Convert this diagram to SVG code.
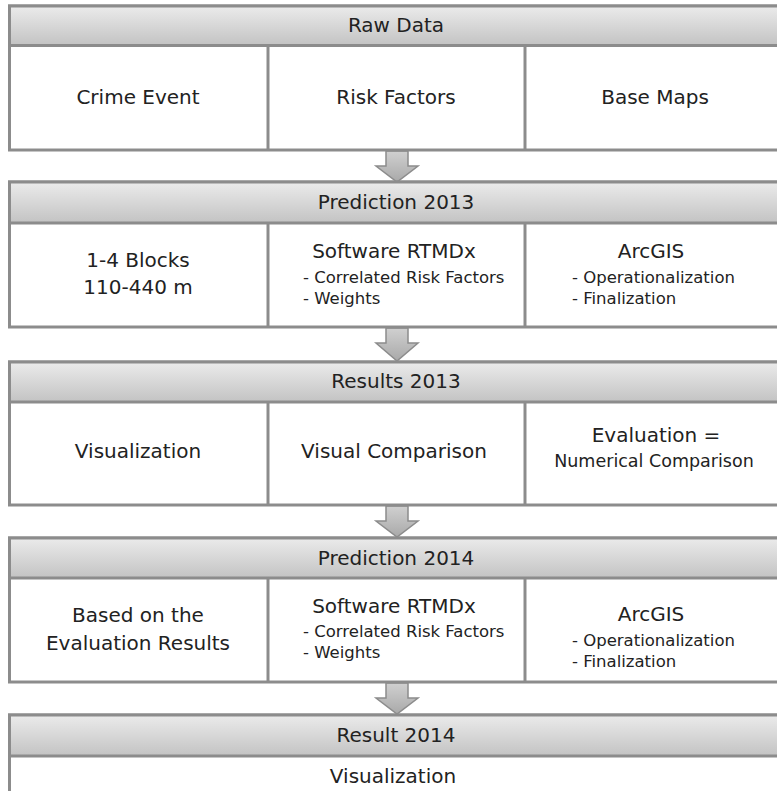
<svg xmlns="http://www.w3.org/2000/svg" width="777" height="791" viewBox="0 0 777 791">
<defs>
<linearGradient id="hg" x1="0" y1="0" x2="0" y2="1">
<stop offset="0" stop-color="#ebebeb"/>
<stop offset="1" stop-color="#c3c3c3"/>
</linearGradient>
<linearGradient id="ag" x1="0" y1="0" x2="0" y2="1">
<stop offset="0" stop-color="#d0d0d0"/>
<stop offset="1" stop-color="#a9a9a9"/>
</linearGradient>
<style>
.box{fill:#ffffff;stroke:#8c8c8c;stroke-width:3}
.hdr{fill:url(#hg);stroke:#8c8c8c;stroke-width:3}
.div{stroke:#8c8c8c;stroke-width:3}
.arr{fill:url(#ag);stroke:#8c8c8c;stroke-width:1.5;stroke-linejoin:miter}
text{font-family:"DejaVu Sans",Verdana,sans-serif;fill:#222222}
.t{font-size:20px;text-anchor:middle}
.s{font-size:16.5px}
.m{font-size:17.5px;text-anchor:middle}
</style>
</defs>
<rect width="777" height="791" fill="#ffffff"/>

<g id="connectors">
<path class="arr" d="M386,151 H408 V166 H418 L397,182 L376,166 H386 Z"/>
<path class="arr" d="M386,328 H408 V343 H418 L397,361 L376,343 H386 Z"/>
<path class="arr" d="M386,506 H408 V521 H418 L397,537 L376,521 H386 Z"/>
<path class="arr" d="M386,683 H408 V698 H418 L397,714 L376,698 H386 Z"/>
</g>

<g id="raw-data">
<rect class="box" x="9.5" y="6" width="790" height="144"/>
<rect class="hdr" x="9.5" y="6" width="790" height="39.5"/>
<line class="div" x1="268" y1="45.5" x2="268" y2="150"/>
<line class="div" x1="525" y1="45.5" x2="525" y2="150"/>
<text class="t" x="396" y="32">Raw Data</text>
<text class="t" x="138" y="104">Crime Event</text>
<text class="t" x="396" y="104">Risk Factors</text>
<text class="t" x="655" y="104">Base Maps</text>
</g>

<g id="prediction-2013">
<rect class="box" x="9.5" y="182" width="790" height="145"/>
<rect class="hdr" x="9.5" y="182" width="790" height="41"/>
<line class="div" x1="268" y1="223" x2="268" y2="327"/>
<line class="div" x1="525" y1="223" x2="525" y2="327"/>
<text class="t" x="396" y="209">Prediction 2013</text>
<text class="t" x="138" y="267">1-4 Blocks</text>
<text class="t" x="138" y="294">110-440 m</text>
<text class="t" x="394" y="258">Software RTMDx</text>
<text class="s" x="303" y="283">- Correlated Risk Factors</text>
<text class="s" x="303" y="304">- Weights</text>
<text class="t" x="651" y="258">ArcGIS</text>
<text class="s" x="572" y="283">- Operationalization</text>
<text class="s" x="572" y="304">- Finalization</text>
</g>

<g id="results-2013">
<rect class="box" x="9.5" y="362" width="790" height="143"/>
<rect class="hdr" x="9.5" y="362" width="790" height="40"/>
<line class="div" x1="268" y1="402" x2="268" y2="505"/>
<line class="div" x1="525" y1="402" x2="525" y2="505"/>
<text class="t" x="396" y="388">Results 2013</text>
<text class="t" x="138" y="458">Visualization</text>
<text class="t" x="394" y="458">Visual Comparison</text>
<text class="t" x="656" y="442">Evaluation =</text>
<text class="m" x="654" y="467">Numerical Comparison</text>
</g>

<g id="prediction-2014">
<rect class="box" x="9.5" y="538" width="790" height="144"/>
<rect class="hdr" x="9.5" y="538" width="790" height="40"/>
<line class="div" x1="268" y1="578" x2="268" y2="682"/>
<line class="div" x1="525" y1="578" x2="525" y2="682"/>
<text class="t" x="396" y="565">Prediction 2014</text>
<text class="t" x="138" y="622">Based on the</text>
<text class="t" x="138" y="650">Evaluation Results</text>
<text class="t" x="394" y="613">Software RTMDx</text>
<text class="s" x="303" y="637">- Correlated Risk Factors</text>
<text class="s" x="303" y="658">- Weights</text>
<text class="t" x="651" y="621">ArcGIS</text>
<text class="s" x="572" y="646">- Operationalization</text>
<text class="s" x="572" y="667">- Finalization</text>
</g>

<g id="result-2014">
<rect class="box" x="9.5" y="715" width="790" height="100"/>
<rect class="hdr" x="9.5" y="715" width="790" height="41"/>
<text class="t" x="396" y="742">Result 2014</text>
<text class="t" x="393" y="783">Visualization</text>
</g>
</svg>
